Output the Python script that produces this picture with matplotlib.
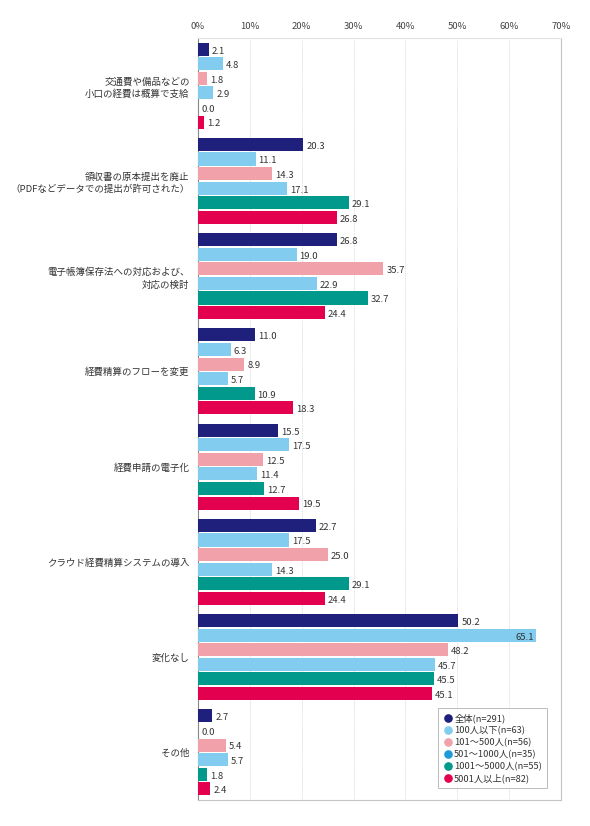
import numpy as np
import matplotlib.pyplot as plt
from matplotlib.lines import Line2D

plt.rcParams['font.family'] = ['Noto Sans CJK JP', 'DejaVu Sans']

categories = [
    '交通費や備品などの\n小口の経費は概算で支給',
    '領収書の原本提出を廃止\n（PDFなどデータでの提出が許可された）',
    '電子帳簿保存法への対応および、\n対応の検討',
    '経費精算のフローを変更',
    '経費申請の電子化',
    'クラウド経費精算システムの導入',
    '変化なし',
    'その他',
]
series_names = ['全体(n=291)', '100人以下(n=63)', '101～500人(n=56)',
                '501～1000人(n=35)', '1001～5000人(n=55)', '5001人以上(n=82)']
all_total = [2.1, 20.3, 26.8, 11.0, 15.5, 22.7, 50.2, 2.7]
under100 = [4.8, 11.1, 19.0, 6.3, 17.5, 17.5, 65.1, 0.0]
s101_500 = [1.8, 14.3, 35.7, 8.9, 12.5, 25.0, 48.2, 5.4]
s501_1000 = [2.9, 17.1, 22.9, 5.7, 11.4, 14.3, 45.7, 5.7]
s1001_5000 = [0.0, 29.1, 32.7, 10.9, 12.7, 29.1, 45.5, 1.8]
over5001 = [1.2, 26.8, 24.4, 18.3, 19.5, 24.4, 45.1, 2.4]
series = [all_total, under100, s101_500, s501_1000, s1001_5000, over5001]

bar_colors = ['#1f1f7c', '#82cdef', '#f0a1aa', '#82cdef', '#00998c', '#e2004f']
legend_colors = ['#1f1f7c', '#82cdef', '#f0a1aa', '#1e9bd7', '#00998c', '#e2004f']

fig = plt.figure(figsize=(5.9, 8.26), dpi=100)
ax = fig.add_axes([0.3356, 0.0315, 0.6152, 0.9225])

n = len(categories)
pitch = 0.153
height = 0.137
offsets = (np.arange(6) - 2.5) * pitch

for i, (vals, col) in enumerate(zip(series, bar_colors)):
    y = np.arange(n) + offsets[i]
    ax.barh(y, vals, height=height, color=col, zorder=3)
    for yy, v in zip(y, vals):
        if v > 60:
            ax.text(v - 0.3, yy + 0.02, f'{v:.1f}', ha='right', va='center',
                    fontsize=6.8, color='#333333', zorder=4)
        else:
            ax.text(v + 0.6, yy + 0.02, f'{v:.1f}', ha='left', va='center',
                    fontsize=6.8, color='#333333', zorder=4)

ax.set_xlim(0, 70)
ax.set_ylim(n - 0.5, -0.5)
ax.set_xticks(np.arange(0, 71, 10))
ax.set_xticklabels([f'{t}%' for t in range(0, 71, 10)])
ax.xaxis.tick_top()
ax.tick_params(axis='x', length=0, labelsize=6.8, labelcolor='#444444', pad=5)
ax.set_yticks(np.arange(n))
ax.set_yticklabels(categories, fontsize=6.8, color='#333333', linespacing=1.4)
ax.tick_params(axis='y', length=0, pad=6)
ax.grid(axis='x', color='#d5d5d5', linestyle=(0, (1, 1)), linewidth=0.6, zorder=0)
for side in ['top', 'right', 'bottom']:
    ax.spines[side].set_color('#c4c4c4')
    ax.spines[side].set_linewidth(0.8)
ax.spines['top'].set_color('#e2e2e2')
ax.spines['left'].set_color('#888888')
ax.spines['left'].set_linewidth(0.8)

handles = [Line2D([], [], marker='o', linestyle='none', markersize=5.2,
                  markerfacecolor=c, markeredgecolor=c) for c in legend_colors]
leg = ax.legend(handles, series_names, loc='lower right', bbox_to_anchor=(0.975, 0.009),
                fontsize=6.7, frameon=True, fancybox=False, handletextpad=0.2,
                borderpad=0.55, labelspacing=0.3, handlelength=1.0)
leg.get_frame().set_edgecolor('#aaaaaa')
leg.get_frame().set_linewidth(0.7)
for t in leg.get_texts():
    t.set_color('#333333')

fig.savefig('out.png', dpi=100)
